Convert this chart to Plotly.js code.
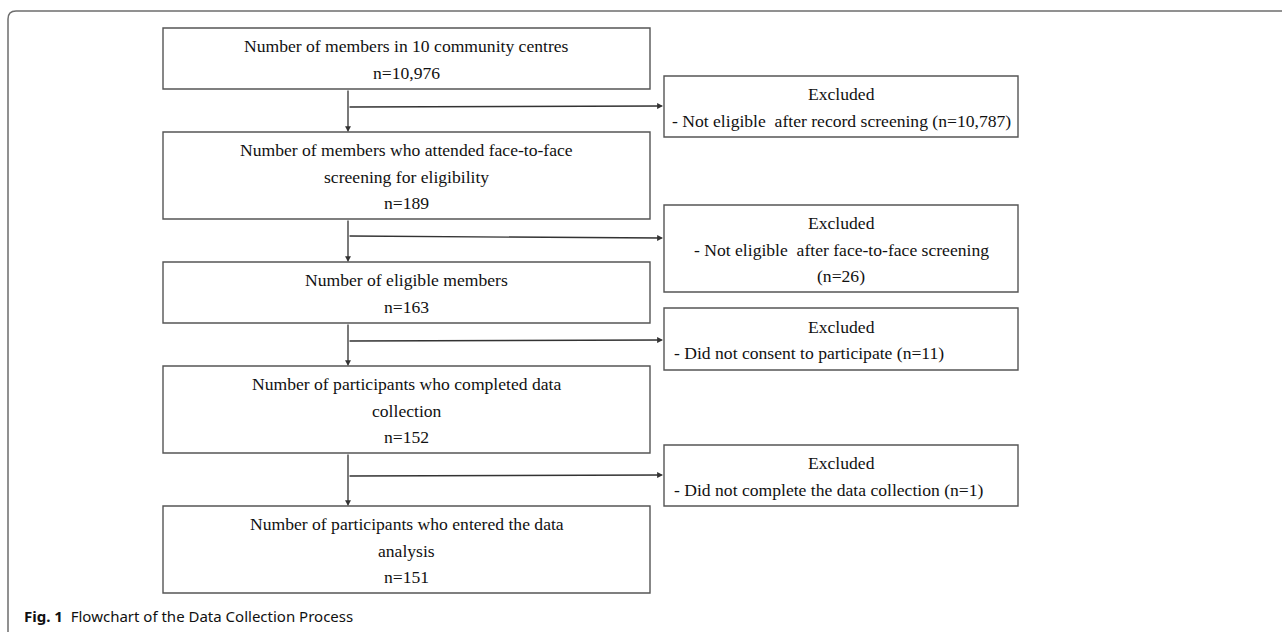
<!DOCTYPE html>
<html>
<head>
<meta charset="utf-8">
<script src="https://cdn.plot.ly/plotly-3.0.1.min.js"></script>
<style>html,body{margin:0;padding:0;background:#fff;}#chart{width:1282px;height:632px;}</style>
</head>
<body>
<div id="chart"></div>
<script>
// ---- data ----
const stageLabels = [
  ["Number of members in 10 community centres"],
  ["Number of members who attended face-to-face", "screening for eligibility"],
  ["Number of eligible members"],
  ["Number of participants who completed data", "collection"],
  ["Number of participants who entered the data", "analysis"]
];
const stageCounts = [10976, 189, 163, 152, 151];
const exclusionHeader = "Excluded";
const exclusionReasons = [
  ["- Not eligible\u00a0 after record screening (n={n})"],
  ["- Not eligible\u00a0 after face-to-face screening", "(n={n})"],
  ["- Did not consent to participate (n={n})"],
  ["- Did not complete the data collection (n={n})"]
];
const exclusionCounts = [10787, 26, 11, 1];
const captionLabel = "Fig. 1";
const captionText = "Flowchart of the Data Collection Process";

// ---- layout (positions / styles) ----
const stageX = [163, 650];
const stageY = [[28, 89], [132, 219], [262, 323], [366, 453], [506, 593]];
const exclX = [664, 1018];
const exclY = [[76, 137], [205, 292], [308, 370], [445, 506]];
const exclAlign = ["center", "center", "left", "left"];
const branchY = [[107, 106], [236, 238], [341, 340], [476, 475]];
const spineX = 348;
const lineGap = 26.5;
const boxColor = "#555555";
const textFont = {family: "Liberation Serif, Times New Roman, serif", size: 17.6, color: "#111"};

const fmt = v => v.toLocaleString("en-US");
const shapes = [];
const annotations = [];

// outer frame
shapes.push({type: "path", path: "M 8 640 L 8 19 Q 8 11 16 11 L 1290 11",
  line: {color: "#6e6e6e", width: 1.5}, xref: "x", yref: "y"});

function addLines(lines, xc, yTop, yBot, align, xLeft) {
  const c = (yTop + yBot) / 2 + 1;
  const n = lines.length;
  lines.forEach((t, i) => {
    const y = c + (i - (n - 1) / 2) * lineGap;
    const left = align[i] === "left";
    annotations.push({x: left ? xLeft : xc, y: y, xref: "x", yref: "y", text: t, showarrow: false,
      xanchor: left ? "left" : "center", yanchor: "middle", font: textFont});
  });
}

stageLabels.forEach((lab, i) => {
  const [y0, y1] = stageY[i];
  shapes.push({type: "rect", x0: stageX[0], x1: stageX[1], y0: y0, y1: y1, xref: "x", yref: "y",
    line: {color: boxColor, width: 1.4}, fillcolor: "rgba(0,0,0,0)"});
  const lines = lab.concat(["n=" + fmt(stageCounts[i])]);
  addLines(lines, (stageX[0] + stageX[1]) / 2, y0, y1, lines.map(() => "center"));
  if (i < stageLabels.length - 1) {
    annotations.push({x: spineX, y: stageY[i + 1][0], ax: spineX, ay: y1, xref: "x", yref: "y",
      axref: "x", ayref: "y", text: "", showarrow: true, arrowhead: 2, arrowsize: 0.9,
      arrowwidth: 1.3, arrowcolor: "#333"});
  }
});

exclusionReasons.forEach((r, i) => {
  const [y0, y1] = exclY[i];
  shapes.push({type: "rect", x0: exclX[0], x1: exclX[1], y0: y0, y1: y1, xref: "x", yref: "y",
    line: {color: boxColor, width: 1.4}, fillcolor: "rgba(0,0,0,0)"});
  const lines = [exclusionHeader].concat(r.map(t => t.replace("{n}", fmt(exclusionCounts[i]))));
  const al = lines.map((t, k) => k === 0 ? "center" : exclAlign[i]);
  addLines(lines, 841, y0, y1, al, 672);
  annotations.push({x: exclX[0] - 1, y: branchY[i][1], ax: spineX, ay: branchY[i][0], xref: "x", yref: "y",
    axref: "x", ayref: "y", text: "", showarrow: true, arrowhead: 2, arrowsize: 0.9,
    arrowwidth: 1.3, arrowcolor: "#333"});
});

annotations.push({x: 22, y: 616, xref: "x", yref: "y", showarrow: false, xanchor: "left", yanchor: "middle",
  text: "<b>" + captionLabel + "</b>\u00a0\u00a0" + captionText,
  font: {family: "Noto Sans, Open Sans, sans-serif", size: 15, color: "#111"}});

const layout = {
  width: 1282, height: 632,
  margin: {l: 0, r: 0, t: 0, b: 0},
  paper_bgcolor: "#fff", plot_bgcolor: "#fff",
  xaxis: {range: [0, 1282], visible: false, fixedrange: true},
  yaxis: {range: [632, 0], visible: false, fixedrange: true},
  shapes: shapes, annotations: annotations, showlegend: false
};
Plotly.newPlot("chart", [], layout, {displayModeBar: false, staticPlot: true});
</script>
</body>
</html>
